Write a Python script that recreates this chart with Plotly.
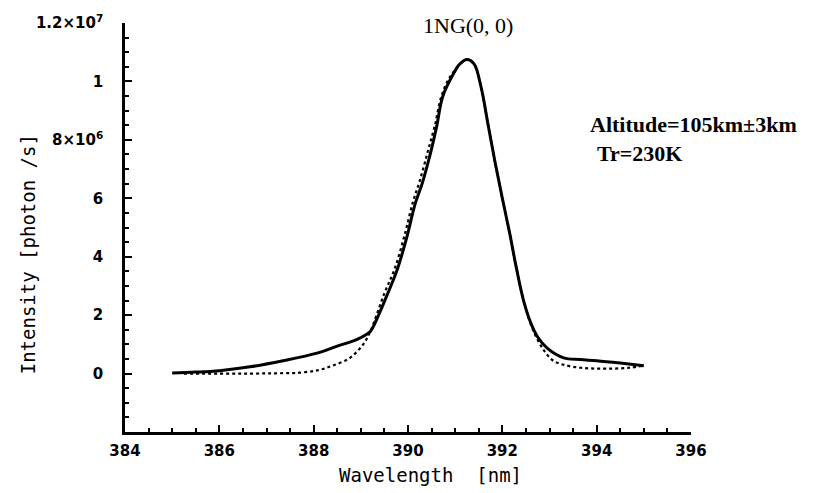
import plotly.graph_objects as go

# Solid curve (observed)
obs_wl = [385.0, 385.5, 386.0, 386.65, 387.35, 388.07, 388.5, 388.92, 389.2, 389.32,
          389.56, 389.77, 389.98, 390.15, 390.3, 390.47, 390.6, 390.74, 390.96, 391.1,
          391.25, 391.4, 391.55, 391.7, 391.85, 392.0, 392.15, 392.3, 392.45, 392.6,
          392.75, 392.95, 393.3, 393.65, 394.0, 394.5, 395.0]
obs_int = [0.02e6, 0.05e6, 0.1e6, 0.23e6, 0.44e6, 0.7e6, 0.94e6, 1.17e6, 1.44e6, 1.8e6,
           2.7e6, 3.55e6, 4.7e6, 5.8e6, 6.5e6, 7.5e6, 8.4e6, 9.5e6, 10.25e6, 10.6e6,
           10.75e6, 10.6e6, 9.8e6, 8.5e6, 7.2e6, 6.0e6, 4.85e6, 3.6e6, 2.5e6, 1.75e6,
           1.25e6, 0.87e6, 0.54e6, 0.48e6, 0.44e6, 0.36e6, 0.27e6]

# Dotted curve (synthetic spectrum)
syn_wl = [385.25, 386.0, 386.65, 387.2, 387.7, 388.1, 388.4, 388.77, 389.05, 389.2,
          389.5, 389.72, 389.93, 390.1, 390.25, 390.42, 390.57, 390.72, 390.95, 391.25,
          391.4, 391.55, 391.7, 391.85, 392.0, 392.15, 392.3, 392.45, 392.6, 392.75,
          392.9, 393.08, 393.3, 393.65, 394.0, 394.35, 394.7, 395.0]
syn_int = [0.0, 0.0, 0.0, 0.01e6, 0.03e6, 0.12e6, 0.27e6, 0.54e6, 1.0e6, 1.44e6,
           2.75e6, 3.6e6, 4.75e6, 5.85e6, 6.6e6, 7.6e6, 8.5e6, 9.55e6, 10.3e6, 10.75e6,
           10.6e6, 9.8e6, 8.5e6, 7.2e6, 6.0e6, 4.85e6, 3.6e6, 2.5e6, 1.7e6, 1.15e6,
           0.75e6, 0.44e6, 0.3e6, 0.2e6, 0.17e6, 0.17e6, 0.2e6, 0.27e6]

x_ticks = [384, 386, 388, 390, 392, 394, 396]
y_tickvals = [0, 2e6, 4e6, 6e6, 8e6, 1e7, 1.2e7]
y_ticktext = ["0", "2", "4", "6", "8×10<sup>6</sup>", "1", "1.2×10<sup>7</sup>"]

title_text = "1NG(0, 0)"
note_lines = ["Altitude=105km±3km", "Tr=230K"]

fig = go.Figure()
fig.add_trace(go.Scatter(x=syn_wl, y=syn_int, mode="lines", line_shape="spline",
                         line=dict(color="black", width=2.2, dash="dot"), showlegend=False))
fig.add_trace(go.Scatter(x=obs_wl, y=obs_int, mode="lines", line_shape="spline",
                         line=dict(color="black", width=3), showlegend=False))

tickfont = dict(family="DejaVu Sans", size=15, color="black", weight="bold")

fig.update_layout(
    width=828, height=493,
    margin=dict(l=125, r=137, t=15, b=61),
    paper_bgcolor="white", plot_bgcolor="white",
    xaxis=dict(range=[384, 396], tickvals=x_ticks, ticktext=[str(v) for v in x_ticks],
               ticks="inside", ticklen=7, tickwidth=2, tickcolor="black",
               showline=True, linecolor="black", linewidth=2.5,
               showgrid=False, zeroline=False, tickfont=tickfont, ticklabelstandoff=3,
               minor=dict(dtick=0.5, ticks="inside", ticklen=4, tickwidth=1.5, tickcolor="black")),
    yaxis=dict(range=[-2e6, 1.2e7], tickvals=y_tickvals, ticktext=y_ticktext,
               ticks="inside", ticklen=7, tickwidth=2, tickcolor="black",
               showline=True, linecolor="black", linewidth=2.5,
               showgrid=False, zeroline=False, tickfont=tickfont, ticklabelstandoff=16,
               minor=dict(dtick=5e5, ticks="inside", ticklen=4, tickwidth=1.5, tickcolor="black")),
)

fig.add_annotation(text="Intensity [photon /s]", xref="paper", yref="paper",
                   x=-0.171, y=0.435, xanchor="center", yanchor="middle", textangle=-90,
                   showarrow=False, font=dict(family="DejaVu Sans Mono", size=19, color="black"))
fig.add_annotation(text="Wavelength  [nm]", xref="paper", yref="paper",
                   x=0.539, y=-0.105, xanchor="center", yanchor="middle",
                   showarrow=False, font=dict(family="DejaVu Sans Mono", size=19, color="black"))
fig.add_annotation(text=title_text, xref="paper", yref="paper",
                   x=0.606, y=0.995, xanchor="center", yanchor="middle",
                   showarrow=False, font=dict(family="Liberation Serif", size=22, color="black"))
fig.add_annotation(text="<b>" + note_lines[0] + "</b>", xref="paper", yref="paper",
                   x=0.818, y=0.753, xanchor="left", yanchor="middle",
                   showarrow=False, font=dict(family="Liberation Serif", size=22, color="black"))
fig.add_annotation(text="<b>" + note_lines[1] + "</b>", xref="paper", yref="paper",
                   x=0.83, y=0.681, xanchor="left", yanchor="middle",
                   showarrow=False, font=dict(family="Liberation Serif", size=22, color="black"))

fig.write_html("out.html")
